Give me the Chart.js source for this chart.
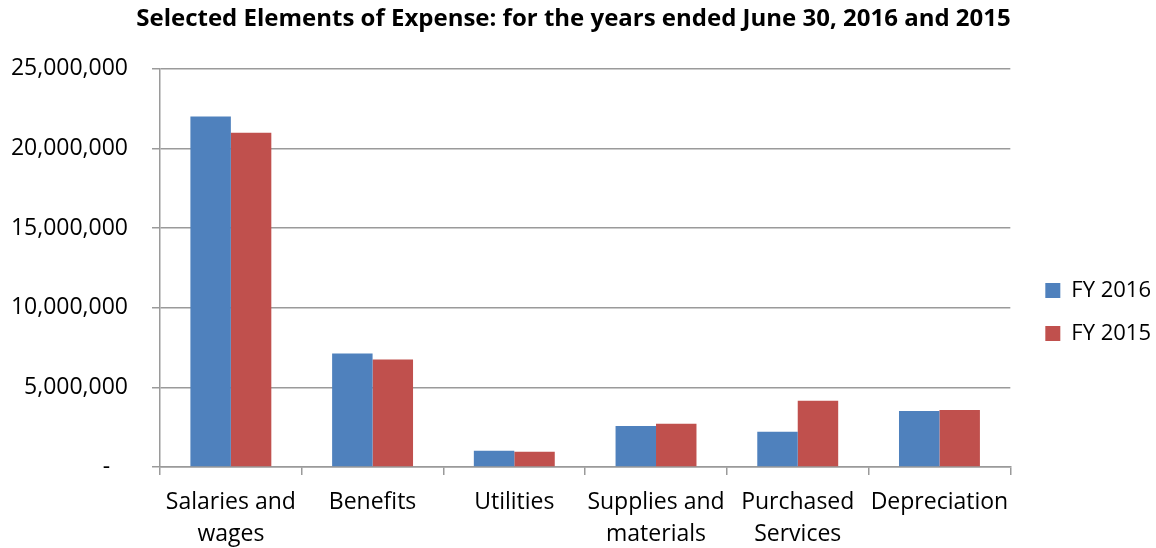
<!DOCTYPE html>
<html>
<head>
<meta charset="utf-8">
<script src="https://cdn.jsdelivr.net/npm/chart.js@4/dist/chart.umd.min.js"></script>
<style>
  html, body { margin: 0; padding: 0; background: #fff; }
  #wrap { width: 1156px; height: 548px; }
</style>
</head>
<body>
<div id="wrap"><canvas id="grafico"></canvas></div>
<script>
const categorias = [
  ['Salaries and', 'wages'],
  'Benefits',
  'Utilities',
  ['Supplies and', 'materials'],
  ['Purchased', 'Services'],
  'Depreciation'
];
const fy2016 = [22000000, 7130000, 1020000, 2580000, 2210000, 3520000];
const fy2015 = [20980000, 6750000, 960000, 2710000, 4160000, 3580000];
const ticksY = [0, 5000000, 10000000, 15000000, 20000000, 25000000];

const fonte = '"Open Sans", "Noto Sans", sans-serif';

// empurra a legenda para a posição do original (centrada no gráfico todo)
const ajusteLegenda = {
  id: 'ajusteLegenda',
  afterLayout(chart) {
    const lg = chart.legend;
    if (!lg) return;
    const dy = 38, dx = 14;
    lg.top += dy; lg.bottom += dy;
    lg.left += dx; lg.right += dx;
  }
};

new Chart(document.getElementById('grafico'), {
  type: 'bar',
  data: {
    labels: categorias,
    datasets: [
      { label: 'FY 2016', data: fy2016, backgroundColor: '#4F81BD' },
      { label: 'FY 2015', data: fy2015, backgroundColor: '#C0504D' }
    ]
  },
  options: {
    responsive: true,
    maintainAspectRatio: false,
    animation: false,
    layout: { padding: { left: 0, right: 9, top: 0, bottom: 0 } },
    datasets: { bar: { categoryPercentage: 0.571, barPercentage: 1.0 } },
    plugins: {
      title: {
        display: true,
        text: 'Selected Elements of Expense: for the years ended June 30, 2016 and 2015',
        color: '#000',
        font: { family: fonte, size: 24, weight: 'bold' },
        padding: { top: 5, bottom: 35 }
      },
      legend: {
        position: 'right',
        labels: {
          color: '#000',
          boxWidth: 15,
          boxHeight: 15,
          padding: 21,
          font: { family: fonte, size: 22 }
        }
      },
      tooltip: { enabled: false }
    },
    scales: {
      x: {
        grid: {
          offset: true,
          drawOnChartArea: false,
          color: '#9a9a9a',
          lineWidth: 1.5,
          tickLength: 8
        },
        border: { color: '#9a9a9a', width: 1.5 },
        ticks: {
          color: '#000',
          maxRotation: 0,
          autoSkip: false,
          padding: 12,
          font: { family: fonte, size: 23, lineHeight: 1.38 }
        },
        afterFit: s => { s.height = 81; }
      },
      y: {
        min: 0,
        max: 25000000,
        afterBuildTicks: s => { s.ticks = ticksY.map(v => ({ value: v })); },
        grid: { color: '#9a9a9a', lineWidth: 1.5, tickLength: 8 },
        border: { color: '#9a9a9a', width: 1.5 },
        ticks: {
          color: '#000',
          padding: 24,
          font: { family: fonte, size: 23 },
          callback: v => v === 0 ? '-   ' : v.toLocaleString('en-US')
        },
        afterFit: s => { s.width = 160; }
      }
    }
  },
  plugins: [ajusteLegenda]
});
</script>
</body>
</html>
